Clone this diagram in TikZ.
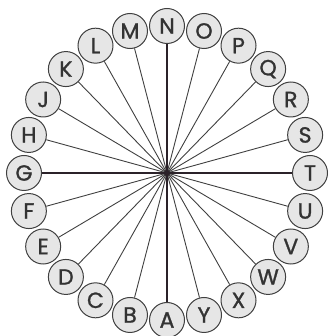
\documentclass[tikz,border=0pt]{standalone}
\usepackage{fontspec}
\newfontfamily\dialfont{Poppins}[FakeBold=1.2]
\usepackage{tikz}
\usetikzlibrary{calc}
\definecolor{ink}{HTML}{2B2229}
\definecolor{ringfill}{HTML}{E6E6E6}
\tikzset{
  letter/.style={draw=black!75, circle, line width=1pt, fill=ringfill, minimum size=35pt, inner sep=0pt, font=\dialfont\fontsize{22}{22}\selectfont, text=black!80},
  spoke/.style={draw=black!75, line width=0.9pt},
  axis/.style={draw=ink, line width=2.4pt},
}
\begin{document}
\begin{tikzpicture}[x=1pt, y=1pt]
\useasboundingbox (0,0) rectangle (327,336);
\coordinate (hub) at (167,163);
\foreach \ch [count=\i from 0] in {A,B,C,D,E,F,G,H,J,K,L,M,N,O,P,Q,R,S,T,U,V,W,X,Y}
  \node[letter] (l\ch) at ($(hub)+({143*cos(-90-15*\i)},{147*sin(-90-15*\i)})$) {\ch};
% thin spokes first, the four axes on top
\foreach \ch in {B,C,D,E,F,H,J,K,L,M,O,P,Q,R,S,U,V,W,X,Y} \draw[spoke] (hub) -- (l\ch);
\foreach \ch in {A,G,N,T} \draw[axis] (hub) -- (l\ch);
\fill[ink] (hub) circle (3pt);
\end{tikzpicture}
\end{document}
